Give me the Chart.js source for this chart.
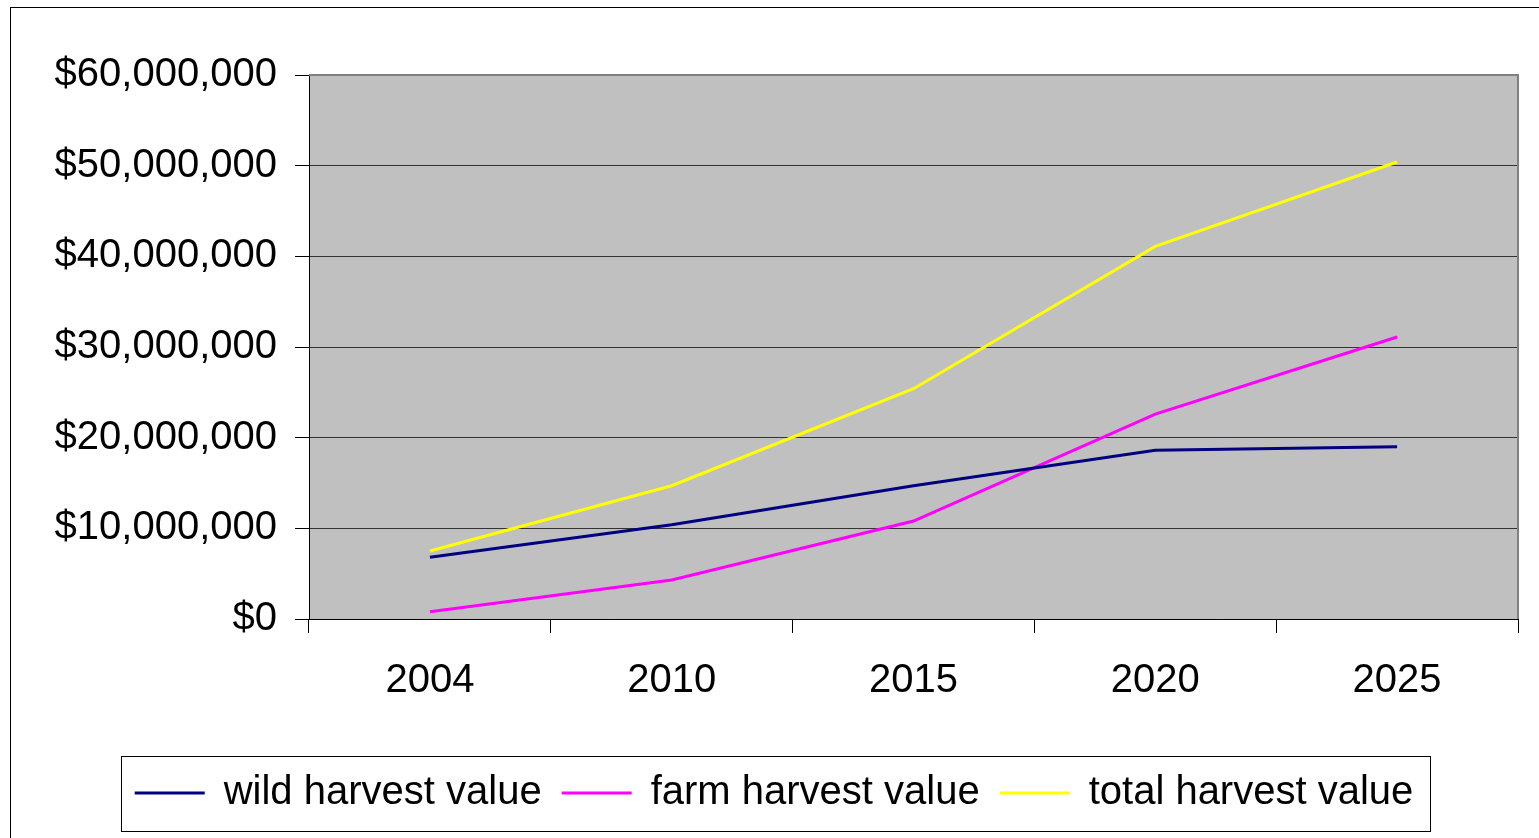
<!DOCTYPE html>
<html>
<head>
<meta charset="utf-8">
<script src="https://cdn.jsdelivr.net/npm/chart.js@4/dist/chart.umd.min.js"></script>
<style>
  html, body { margin: 0; padding: 0; background: #fff; overflow: hidden; }
  canvas { display: block; }
</style>
</head>
<body>
<canvas id="harvestChart" width="1539" height="838"></canvas>
<script>
const years = ['2004', '2010', '2015', '2020', '2025'];
const wildValues = [6800000, 10400000, 14700000, 18600000, 19000000];
const farmValues = [800000, 4300000, 10800000, 22600000, 31100000];
const totalValues = [7500000, 14700000, 25400000, 41100000, 50400000];
const seriesNames = ['wild harvest value', 'farm harvest value', 'total harvest value'];
const seriesColors = ['#000080', '#FF00FF', '#FFFF00'];

const ctx = document.getElementById('harvestChart').getContext('2d');
const FONT = 'Liberation Sans, Arial, sans-serif';

// background, plot area and frames
const framePlugin = {
  id: 'frame',
  beforeDraw(chart) {
    const c = chart.ctx;
    const a = chart.chartArea;
    c.save();
    c.fillStyle = '#fff';
    c.fillRect(0, 0, chart.width, chart.height);
    c.strokeStyle = '#000';
    c.lineWidth = 1;
    c.strokeRect(10.5, 7.5, chart.width + 20, chart.height + 20);
    c.fillStyle = '#C0C0C0';
    c.fillRect(a.left, a.top, a.right - a.left, a.bottom - a.top);
    c.restore();
  },
  beforeDatasetsDraw(chart) {
    const c = chart.ctx;
    const a = chart.chartArea;
    c.save();
    c.strokeStyle = '#808080';
    c.lineWidth = 2;
    c.beginPath();
    c.moveTo(a.left, a.top);
    c.lineTo(a.right, a.top);
    c.lineTo(a.right, a.bottom);
    c.stroke();
    c.restore();
  },
  afterDraw(chart) {
    const boxes = chart.legend.legendHitBoxes;
    if (!boxes || !boxes.length) return;
    const c = chart.ctx;
    const left = Math.min(...boxes.map(b => b.left)) - 15;
    const right = Math.max(...boxes.map(b => b.left + b.width)) + 16;
    const mid = boxes[0].top + boxes[0].height / 2;
    c.save();
    c.strokeStyle = '#000';
    c.lineWidth = 1;
    c.strokeRect(Math.round(left) + 0.5, Math.round(mid - 37) + 0.5, Math.round(right - left), 75);
    c.restore();
  }
};

new Chart(ctx, {
  type: 'line',
  data: {
    labels: years,
    datasets: [wildValues, farmValues, totalValues].map((vals, i) => ({
      label: seriesNames[i],
      data: vals,
      borderColor: seriesColors[i],
      backgroundColor: seriesColors[i],
      borderWidth: 3,
      pointRadius: 0,
      tension: 0,
      fill: false
    }))
  },
  options: {
    responsive: false,
    animation: false,
    layout: { padding: { top: 75, right: 21, left: 31, bottom: 15 } },
    plugins: {
      tooltip: { enabled: false },
      legend: {
        position: 'bottom',
        labels: {
          color: '#000',
          font: { family: FONT, size: 40 },
          boxWidth: 68,
          boxHeight: 1,
          padding: 21,
          generateLabels(chart) {
            return Chart.defaults.plugins.legend.labels.generateLabels(chart)
              .map(item => ({ ...item, lineWidth: 2 }));
          }
        }
      }
    },
    scales: {
      x: {
        offset: true,
        grid: {
          offset: true,
          drawOnChartArea: false,
          tickLength: 14,
          tickColor: '#000',
          tickWidth: 1
        },
        border: { color: '#000', width: 1 },
        ticks: { color: '#000', font: { family: FONT, size: 40 }, padding: 24, maxRotation: 0 },
        afterFit(scale) { scale.height = 133; }
      },
      y: {
        min: 0,
        max: 60000000,
        grid: {
          color: '#333',
          lineWidth: 1,
          tickLength: 14,
          tickColor: '#000'
        },
        border: { color: '#000', width: 1 },
        ticks: {
          stepSize: 10000000,
          color: '#000',
          font: { family: FONT, size: 40 },
          padding: 18,
          callback: v => '$' + v.toLocaleString('en-US')
        },
        afterFit(scale) { scale.width = 278; }
      }
    }
  },
  plugins: [framePlugin]
});
</script>
</body>
</html>
